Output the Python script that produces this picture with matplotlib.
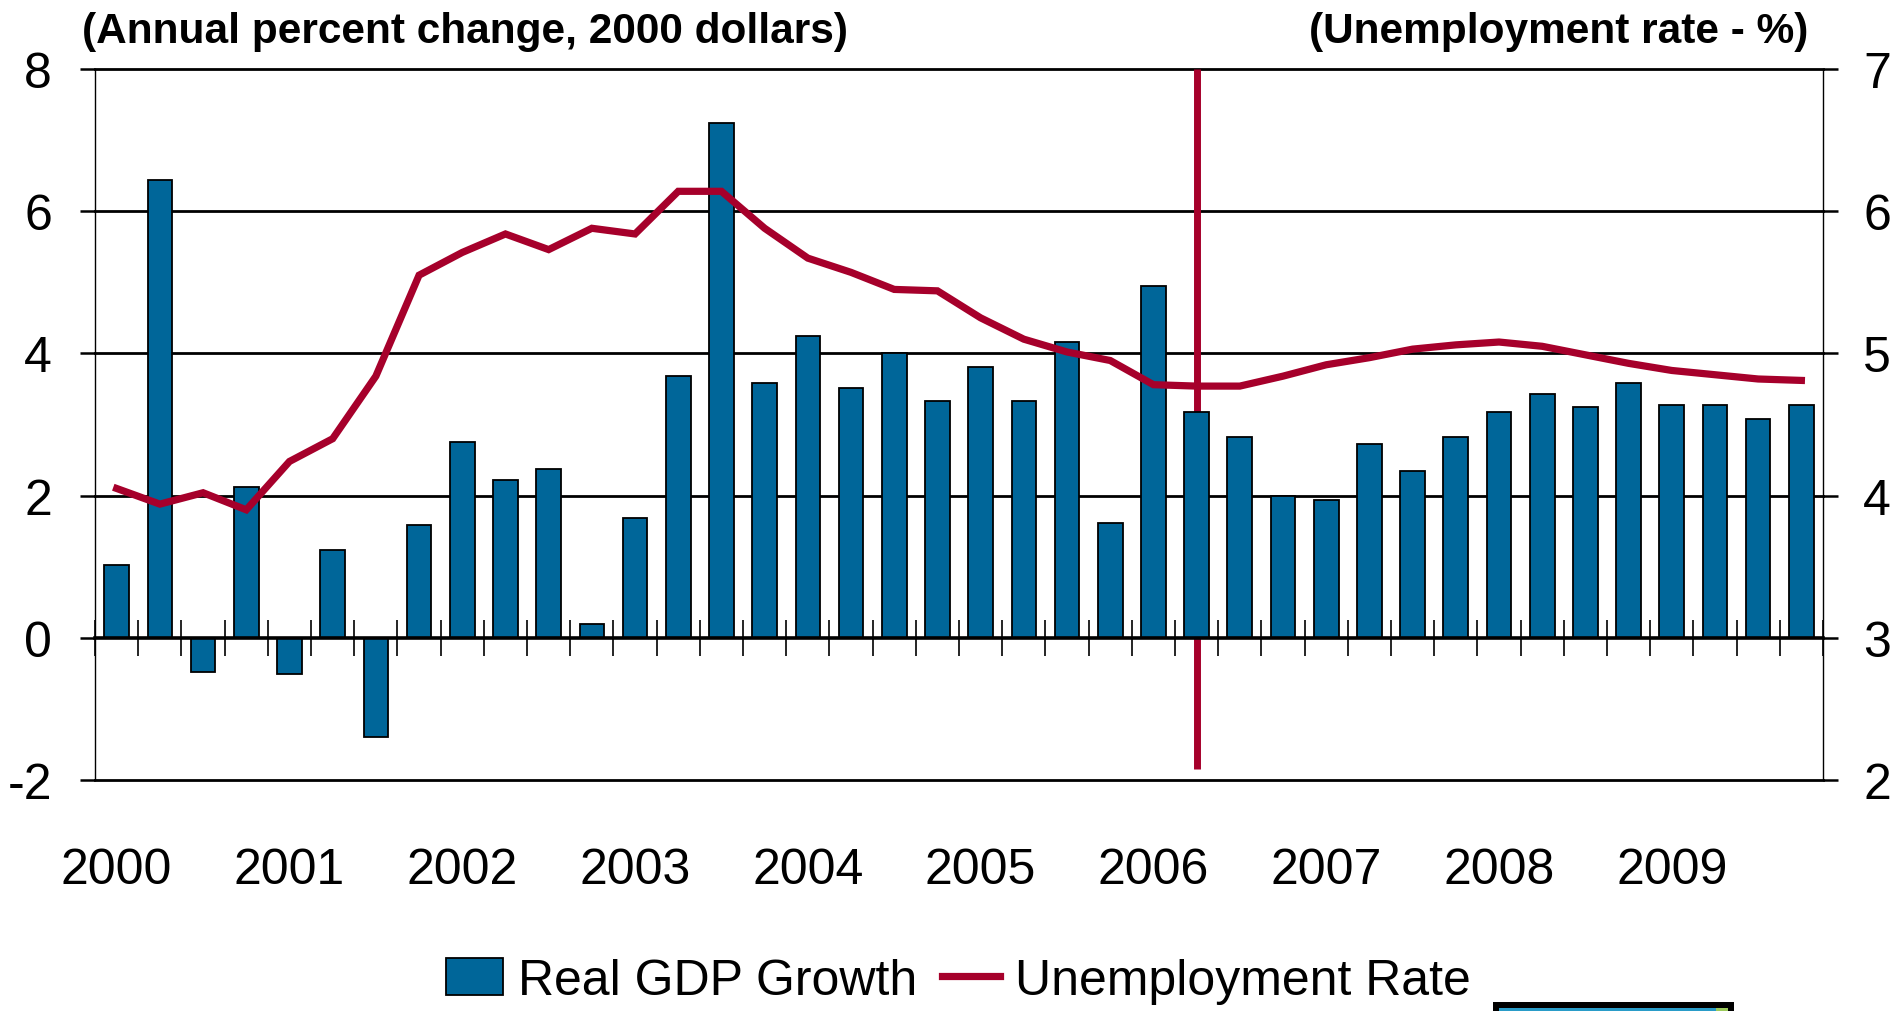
import numpy as np
import matplotlib
matplotlib.use("Agg")
from matplotlib import pyplot as plt
from matplotlib.patches import Rectangle
from matplotlib.lines import Line2D
from matplotlib.patches import Patch
import matplotlib.transforms as mtransforms

plt.rcParams['font.family'] = ['Liberation Sans', 'DejaVu Sans']

# Quarterly data, 2000Q1 .. 2009Q4
years = [2000, 2001, 2002, 2003, 2004, 2005, 2006, 2007, 2008, 2009]
gdp_growth = [1.02, 6.44, -0.48, 2.12, -0.51, 1.24, -1.40, 1.59,
              2.75, 2.22, 2.38, 0.19, 1.68, 3.68, 7.24, 3.58,
              4.25, 3.52, 4.00, 3.33, 3.81, 3.33, 4.16, 1.61,
              4.95, 3.17, 2.82, 1.99, 1.94, 2.73, 2.35, 2.82,
              3.17, 3.43, 3.24, 3.59, 3.27, 3.27, 3.08, 3.27]
unemployment = [4.05, 3.94, 4.02, 3.90, 4.24, 4.40, 4.84, 5.55,
                5.71, 5.84, 5.73, 5.88, 5.84, 6.14, 6.14, 5.88,
                5.67, 5.57, 5.45, 5.44, 5.25, 5.10, 5.01, 4.95,
                4.78, 4.77, 4.77, 4.84, 4.92, 4.97, 5.03, 5.06,
                5.08, 5.05, 4.99, 4.93, 4.88, 4.85, 4.82, 4.81]
event_quarter = 25          # 2006Q2 marker
event_span = (-1.85, 8)

left_ticks = [-2, 0, 2, 4, 6, 8]
right_ticks = [2, 3, 4, 5, 6, 7]

blue = '#006699'
red = '#A6002B'
fs = 36

x = np.arange(len(gdp_growth))

fig = plt.figure(figsize=(18.94, 10.12), dpi=100)
ax = fig.add_axes([0.0502, 0.2283, 0.9123, 0.7025])
ax2 = ax.twinx()

# bars and event marker on the left axis
ax.vlines(event_quarter, event_span[0], event_span[1], color=red, lw=5, zorder=1.5)
ax.bar(x, gdp_growth, width=0.57, color=blue, edgecolor='black', linewidth=1.3, zorder=2)

for v in left_ticks:
    if v != 0:
        ax.axhline(v, color='black', lw=2.0, zorder=0.5, clip_on=False)

ax.set_xlim(-0.5, len(x) - 0.5)
ax.set_ylim(left_ticks[0], left_ticks[-1])
ax.set_yticks(left_ticks)
ax.set_yticklabels([str(v) for v in left_ticks], fontsize=fs)
ax.tick_params(axis='y', direction='out', length=11, width=1.8, pad=20)

ax.spines['bottom'].set_position(('data', 0))
ax.spines['bottom'].set_linewidth(2.6)
ax.spines['top'].set_visible(False)
ax.spines['left'].set_linewidth(1.0)
ax.spines['right'].set_visible(False)

ax.set_xticks([])
ax.set_xticks(np.arange(-0.5, len(x), 1), minor=True)
ax.tick_params(axis='x', which='minor', direction='inout', length=26, width=1.2)

# year labels under the plot
trans = mtransforms.blended_transform_factory(ax.transData, ax.transAxes)
for i, yr in enumerate(years):
    ax.text(i * 4, -0.127, str(yr), transform=trans, ha='center', va='center', fontsize=fs)

# unemployment rate on the right axis
ax2.plot(x, unemployment, color=red, lw=5.2, solid_joinstyle='miter', zorder=3)
ax2.set_ylim(right_ticks[0], right_ticks[-1])
ax2.set_yticks(right_ticks)
ax2.set_yticklabels([str(v) for v in right_ticks], fontsize=fs)
ax2.tick_params(axis='y', direction='out', length=11, width=1.8, pad=18)
for s in ['top', 'bottom', 'left']:
    ax2.spines[s].set_visible(False)
ax2.spines['right'].set_linewidth(1.0)

fig.text(82 / 1894, 1 - 43 / 1012, '(Annual percent change, 2000 dollars)',
         fontsize=30.5, fontweight='bold', ha='left', va='baseline')
fig.text(1808 / 1894, 1 - 43 / 1012, '(Unemployment rate - %)',
         fontsize=30.5, fontweight='bold', ha='right', va='baseline')

handles = [Patch(facecolor=blue, edgecolor='black', linewidth=1.3),
           Line2D([], [], color=red, lw=5.2)]
fig.legend(handles, ['Real GDP Growth', 'Unemployment Rate'], ncol=2,
           loc='center', bbox_to_anchor=(958 / 1894, 1 - 982 / 1012),
           frameon=False, fontsize=fs, handlelength=1.15, handleheight=0.75,
           handletextpad=0.3, columnspacing=0.5, borderpad=0, borderaxespad=0)

# small framed box cut by the bottom edge
fig.patches.append(Rectangle((1493 / 1894, 0), 241 / 1894, 9 / 1012,
                             transform=fig.transFigure, facecolor='black', edgecolor='none'))
fig.patches.append(Rectangle((1499 / 1894, 0), 229 / 1894, 3 / 1012,
                             transform=fig.transFigure, facecolor='#2A9CC8', edgecolor='none'))
fig.patches.append(Rectangle((1716 / 1894, 0), 12 / 1894, 3 / 1012,
                             transform=fig.transFigure, facecolor='#9CCB5C', edgecolor='none'))

fig.savefig('out.png', dpi=100)
